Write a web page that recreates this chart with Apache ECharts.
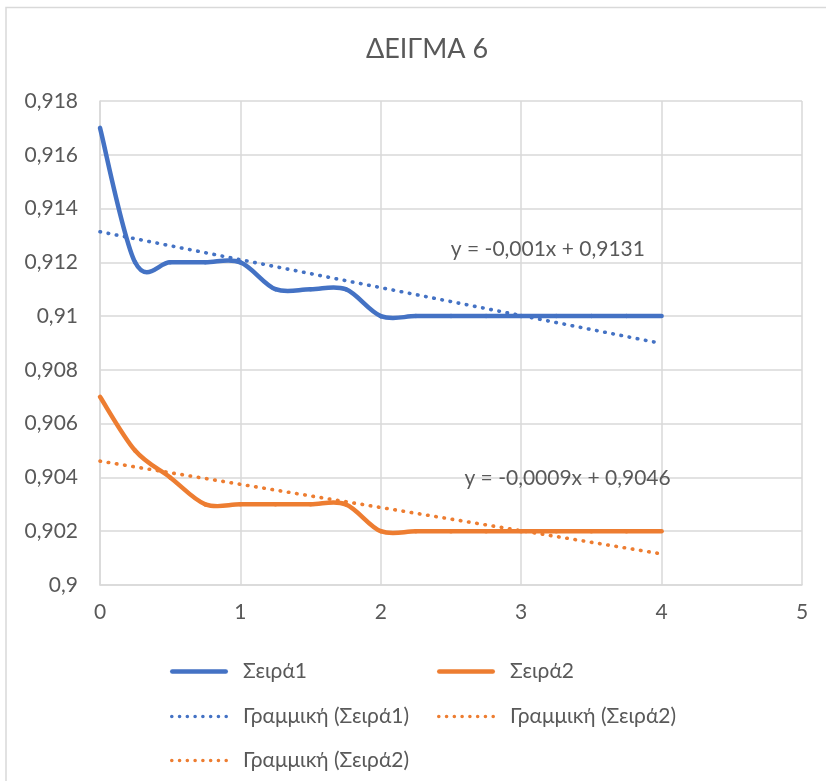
<!DOCTYPE html>
<html>
<head>
<meta charset="utf-8">
<title>ΔΕΙΓΜΑ 6</title>
<script src="https://cdn.jsdelivr.net/npm/echarts@6/dist/echarts.min.js"></script>
<style>
  html, body { margin: 0; padding: 0; background: #fff; }
  #chart { width: 826px; height: 781px; }
</style>
</head>
<body>
<div id="chart"></div>
<script>
// Measurement positions (x) and the two measured series
const xValues = [0, 0.25, 0.5, 0.75, 1, 1.25, 1.5, 1.75, 2, 2.25, 2.5, 2.75, 3, 3.25, 3.5, 3.75, 4];
const series1 = [0.917, 0.912, 0.912, 0.912, 0.912, 0.911, 0.911, 0.911, 0.910, 0.910, 0.910, 0.910, 0.910, 0.910, 0.910, 0.910, 0.910];
const series2 = [0.907, 0.905, 0.904, 0.903, 0.903, 0.903, 0.903, 0.903, 0.902, 0.902, 0.902, 0.902, 0.902, 0.902, 0.902, 0.902, 0.902];

const seriesNames = ['Σειρά1', 'Σειρά2'];
const trendNames = ['Γραμμική (Σειρά1)', 'Γραμμική (Σειρά2)'];
const titleText = 'ΔΕΙΓΜΑ 6';

const BLUE = '#4472C4';
const ORANGE = '#ED7D31';
const GREY_TEXT = '#595959';
const GRID = '#D9D9D9';
const FONT = 'Lato, "Open Sans", sans-serif';
const LINE_W = 4.5;

// Least-squares linear fit
function linearFit(xs, ys) {
  const n = xs.length;
  const mx = xs.reduce((a, b) => a + b, 0) / n;
  const my = ys.reduce((a, b) => a + b, 0) / n;
  let sxy = 0, sxx = 0;
  for (let i = 0; i < n; i++) {
    sxy += (xs[i] - mx) * (ys[i] - my);
    sxx += (xs[i] - mx) * (xs[i] - mx);
  }
  const slope = sxy / sxx;
  return { slope, intercept: my - slope * mx };
}

// Decimal-comma number with trailing zeros removed
function fmt(v, digits) {
  let s = v.toFixed(digits);
  if (s.indexOf('.') >= 0) s = s.replace(/0+$/, '').replace(/\.$/, '');
  return s.replace('.', ',');
}

function equation(fit) {
  const sign = fit.intercept >= 0 ? ' + ' : ' - ';
  return 'y = ' + fmt(fit.slope, 4) + 'x' + sign + fmt(Math.abs(fit.intercept), 4);
}

const fit1 = linearFit(xValues, series1);
const fit2 = linearFit(xValues, series2);
const xFirst = xValues[0];
const xLast = xValues[xValues.length - 1];

function pairs(ys) { return xValues.map((x, i) => [x, ys[i]]); }
function trendPoints(fit) {
  return [[xFirst, fit.intercept + fit.slope * xFirst], [xLast, fit.intercept + fit.slope * xLast]];
}

// Smoothed line: each segment is a cubic Bezier whose control points
// follow the neighbouring points (Catmull-Rom style tangents).
function splineRenderer(ys, color) {
  const n = xValues.length;
  return function (params, api) {
    const i = params.dataIndex;
    if (i >= n - 1) return null;
    const P = k => {
      const j = Math.max(0, Math.min(n - 1, k));
      return api.coord([xValues[j], ys[j]]);
    };
    const p0 = P(i - 1), p1 = P(i), p2 = P(i + 1), p3 = P(i + 2);
    const t = 1 / 6;
    return {
      type: 'bezierCurve',
      shape: {
        x1: p1[0], y1: p1[1], x2: p2[0], y2: p2[1],
        cpx1: p1[0] + (p2[0] - p0[0]) * t, cpy1: p1[1] + (p2[1] - p0[1]) * t,
        cpx2: p2[0] - (p3[0] - p1[0]) * t, cpy2: p2[1] - (p3[1] - p1[1]) * t
      },
      style: { fill: null, stroke: color, lineWidth: LINE_W, lineCap: 'round', lineJoin: 'round' }
    };
  };
}

// Legend icons drawn as paths: a rounded bar and a row of dots
function barIcon(w, h) {
  const r = h / 2;
  return 'path://M' + r + ',0 L' + (w - r) + ',0 A' + r + ',' + r + ' 0 0,1 ' + (w - r) + ',' + h +
    ' L' + r + ',' + h + ' A' + r + ',' + r + ' 0 0,1 ' + r + ',0 Z';
}
function dotsIcon(w, d, count) {
  const r = d / 2;
  const step = (w - d) / (count - 1);
  let p = 'path://';
  for (let k = 0; k < count; k++) {
    const cx = r + k * step;
    p += 'M' + (cx - r) + ',' + r + ' A' + r + ',' + r + ' 0 1,0 ' + (cx + r) + ',' + r +
      ' A' + r + ',' + r + ' 0 1,0 ' + (cx - r) + ',' + r + ' Z ';
  }
  return p;
}
const SOLID_ICON = barIcon(58, LINE_W);
const DOT_ICON = dotsIcon(58, 3.6, 8);

const dotted = { type: [0.5, 7.8], cap: 'round', width: 3.6 };
const labelStyle = { color: GREY_TEXT, fontFamily: FONT, fontSize: 21 };

function legendAt(name, icon, left, top) {
  return {
    data: [{ name: name, icon: icon }],
    left: left, top: top,
    orient: 'horizontal',
    padding: 0,
    itemWidth: 58, itemHeight: 14,
    symbolKeepAspect: true,
    selectedMode: false,
    textStyle: { color: GREY_TEXT, fontFamily: FONT, fontSize: 21, padding: [0, 0, 0, 10] }
  };
}

const chart = echarts.init(document.getElementById('chart'), null, { renderer: 'canvas' });

chart.setOption({
  animation: false,
  backgroundColor: '#fff',
  title: {
    text: titleText,
    left: 422,
    textAlign: 'center',
    top: 31,
    textStyle: { color: GREY_TEXT, fontFamily: FONT, fontSize: 27, fontWeight: 'normal' }
  },
  graphic: [{
    type: 'rect',
    shape: { x: 6, y: 7.5, width: 1000, height: 1000 },
    style: { fill: 'none', stroke: GRID, lineWidth: 1.5 },
    silent: true
  }],
  legend: [
    legendAt(seriesNames[0], SOLID_ICON, 170, 661),
    legendAt(seriesNames[1], SOLID_ICON, 437, 661),
    legendAt(trendNames[0], DOT_ICON, 170, 706),
    legendAt(trendNames[1], DOT_ICON, 437, 706),
    legendAt(trendNames[1], DOT_ICON, 170, 750)
  ],
  grid: { left: 100, right: 24, top: 101, bottom: 196, containLabel: false },
  xAxis: {
    type: 'value',
    min: 0, max: 5, interval: 1,
    axisLine: { show: true, lineStyle: { color: GRID, width: 1.5 } },
    axisTick: { show: false },
    axisLabel: { color: GREY_TEXT, fontFamily: FONT, fontSize: 21, margin: 17 },
    splitLine: { show: true, lineStyle: { color: GRID, width: 1.5 } }
  },
  yAxis: {
    type: 'value',
    min: 0.9, max: 0.918, interval: 0.002,
    axisLine: { show: true, lineStyle: { color: GRID, width: 1.5 } },
    axisTick: { show: false },
    axisLabel: {
      color: GREY_TEXT, fontFamily: FONT, fontSize: 21, margin: 22,
      formatter: v => fmt(+v.toFixed(3), 3)
    },
    splitLine: { show: true, lineStyle: { color: GRID, width: 1.5 } }
  },
  series: [
    {
      name: seriesNames[0], type: 'custom', data: pairs(series1),
      encode: { x: 0, y: 1 },
      renderItem: splineRenderer(series1, BLUE),
      itemStyle: { color: BLUE }, z: 3
    },
    {
      name: seriesNames[1], type: 'custom', data: pairs(series2),
      encode: { x: 0, y: 1 },
      renderItem: splineRenderer(series2, ORANGE),
      itemStyle: { color: ORANGE }, z: 3
    },
    {
      name: trendNames[0], type: 'line', data: trendPoints(fit1),
      symbol: 'none', color: BLUE,
      lineStyle: Object.assign({ color: BLUE }, dotted), z: 2,
      markPoint: {
        symbol: 'circle', symbolSize: 0,
        data: [{ coord: [3.19, 0.9125], value: equation(fit1) }],
        label: Object.assign({ show: true, position: 'inside', formatter: p => p.value }, labelStyle)
      }
    },
    {
      name: trendNames[1], type: 'line', data: trendPoints(fit2),
      symbol: 'none', color: ORANGE,
      lineStyle: Object.assign({ color: ORANGE }, dotted), z: 2,
      markPoint: {
        symbol: 'circle', symbolSize: 0,
        data: [{ coord: [3.33, 0.90398], value: equation(fit2) }],
        label: Object.assign({ show: true, position: 'inside', formatter: p => p.value }, labelStyle)
      }
    }
  ]
});
</script>
</body>
</html>
